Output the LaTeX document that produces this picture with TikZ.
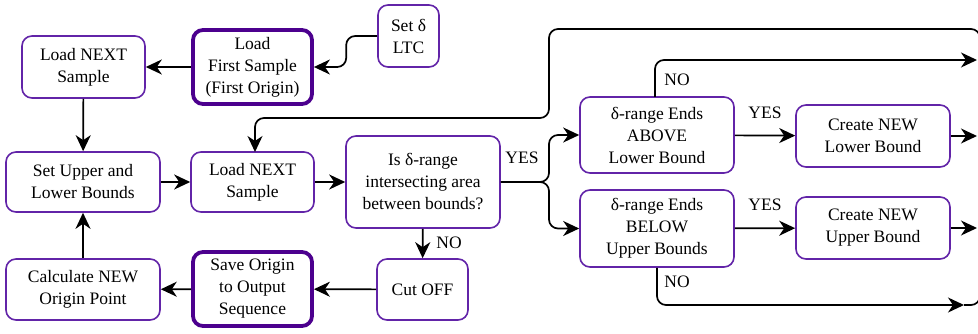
\documentclass[tikz,border=0pt]{standalone}
\usepackage{fontspec}
\setmainfont{Liberation Serif}
\usetikzlibrary{arrows.meta,calc}
\definecolor{boxline}{RGB}{98,36,168}
\definecolor{keyline}{RGB}{76,0,142}
\begin{document}
\begin{tikzpicture}[x=1pt,y=-1pt,
  every node/.style={font=\fontsize{17.5}{22}\selectfont, align=center},
  box/.style={draw=boxline, line width=1.6pt, rounded corners=10pt, fill=white, inner sep=2pt},
  keybox/.style={draw=keyline, line width=3.8pt, rounded corners=10pt, fill=white, inner sep=2pt},
  flow/.style={line width=1.7pt, rounded corners=9pt, -{Stealth[length=16pt,width=15pt,inset=5pt]}},
  plain/.style={line width=1.7pt, rounded corners=9pt},
  lbl/.style={inner sep=1pt}]
\clip (0,0) rectangle (978,334);
\useasboundingbox (0,0) rectangle (978,334);

% boxes
\node[box, minimum width=123pt, minimum height=62pt] (ln1) at (83.5,67) {Load NEXT\\Sample};
\node[keybox, minimum width=119pt, minimum height=74pt] (lf) at (252.5,67) {Load\\First Sample\\(First Origin)};
\node[box, minimum width=61pt, minimum height=62pt] (ltc) at (408.5,36) {Set δ\\LTC};
\node[box, minimum width=154pt, minimum height=60pt] (sb) at (83,182) {Set Upper and\\Lower Bounds};
\node[box, minimum width=123pt, minimum height=60pt] (ln2) at (252.5,182) {Load NEXT\\Sample};
\node[box, minimum width=154pt, minimum height=92pt] (is) at (423,182) {Is δ-range\\intersecting area\\between bounds?};
\node[box, minimum width=91pt, minimum height=61pt] (cut) at (422.5,289.5) {Cut OFF};
\node[keybox, minimum width=119pt, minimum height=74pt] (save) at (252.5,289) {Save Origin\\to Output\\Sequence};
\node[box, minimum width=154pt, minimum height=61pt] (calc) at (83,289.5) {Calculate NEW\\Origin Point};
\node[box, minimum width=154pt, minimum height=76pt] (above) at (657,135) {δ-range Ends\\ABOVE\\Lower Bound};
\node[box, minimum width=154pt, minimum height=77pt] (below) at (657,228.5) {δ-range Ends\\BELOW\\Upper Bounds};
\node[box, minimum width=154pt, minimum height=62pt] (cl) at (873,136) {Create NEW\\Lower Bound};
\node[box, minimum width=154pt, minimum height=62pt] (cu) at (873,228) {Create NEW\\Upper Bound};

% free ends at the right margin
\coordinate (outA) at (977,60);
\coordinate (outB) at (977,136);
\coordinate (outC) at (977,228);
\coordinate (outD) at (964,305);
\coordinate (back) at (980,45);

% left loop
\draw[flow] (lf) -- (ln1);
\draw[flow] (ltc.west) -- ++(-31,0) |- (lf.east);
\draw[flow] (ln1) -- (sb);
\draw[flow] (sb) -- (ln2);
\draw[flow] (ln2) -- (is);
\draw[flow] (is) -- (cut);
\draw[flow] (cut) -- (save);
\draw[flow] (save) -- (calc);
\draw[flow] (calc) -- (sb);

% branches after the test
\draw[flow] (is.east) -- (549,182) |- (above.west);
\draw[flow] (is.east) -- (549,182) |- (below.west);
\draw[flow] (above) -- (cl);
\draw[flow] (below) -- (cu);
\draw[flow] (cl) -- (outB);
\draw[flow] (cu) -- (outC);
\draw[flow] (655,97) |- (outA);
\draw[flow] (below.south) |- (outD);
\draw[plain] (outD) -- (980,305) -- (980,290);

% return to the next sample
\draw[flow] (back) |- (549,29) |- (255,118) -- (255,152);

% labels
\node[lbl] (yes0) at (522,158) {YES};
\node[lbl] (no0) at (449,243) {NO};
\node[lbl] (yes1) at (765,113) {YES};
\node[lbl] (yes2) at (765,205) {YES};
\node[lbl] (no1) at (677,80) {NO};
\node[lbl] (no2) at (677,282) {NO};
\end{tikzpicture}
\end{document}
